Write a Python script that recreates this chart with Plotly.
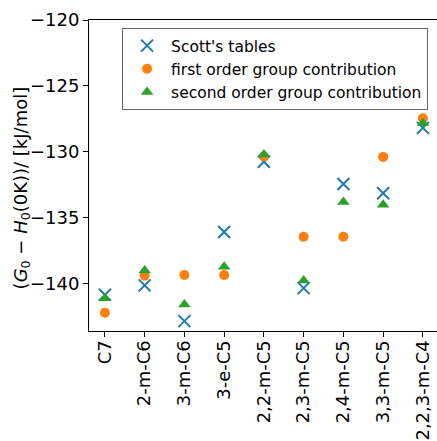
import plotly.graph_objects as go

categories = ["C7", "2-m-C6", "3-m-C6", "3-e-C5", "2,2-m-C5", "2,3-m-C5",
              "2,4-m-C5", "3,3-m-C5", "2,2,3-m-C4"]
scott = [-140.83, -140.12, -142.83, -136.08, -130.75, -140.33, -132.43, -133.13, -128.18]
first_order = [-142.2, -139.38, -139.33, -139.33, -130.33, -136.43, -136.43, -130.38, -127.45]
second_order = [-141.1, -139.0, -141.58, -138.7, -130.2, -139.75, -133.8, -134.0, -127.83]
y_ticks = [-140, -135, -130, -125, -120]
y_title = "(<i>G</i><sub>0</sub> − <i>H</i><sub>0</sub>(0K))/ [kJ/mol]"

xs = list(range(len(categories)))
fig = go.Figure()
fig.add_trace(go.Scatter(x=xs, y=scott, mode="markers", name="Scott's tables",
                         marker=dict(symbol="x-thin", size=12, color="#1f77b4",
                                     line=dict(width=2, color="#1f77b4"))))
fig.add_trace(go.Scatter(x=xs, y=first_order, mode="markers", name="first order group contribution",
                         marker=dict(symbol="circle", size=10, color="#ff7f0e")))
fig.add_trace(go.Scatter(x=xs, y=second_order, mode="markers", name="second order group contribution",
                         marker=dict(symbol="triangle-up", size=11, color="#2ca02c")))

fig.update_layout(
    width=437, height=441,
    margin=dict(l=89, r=0, t=20, b=107),
    plot_bgcolor="white", paper_bgcolor="white",
    font=dict(family="DejaVu Sans", color="black", size=16),
    showlegend=True,
    legend=dict(x=0.095, y=0.974, xanchor="left", yanchor="top",
                bordercolor="#666", borderwidth=1, bgcolor="rgba(255,255,255,0.8)",
                font=dict(size=15.5, family="DejaVu Sans"), tracegroupgap=0,
                itemwidth=38),
    xaxis=dict(range=[-0.4, 8.355], tickmode="array", tickvals=xs, ticktext=categories,
               tickangle=-90, showgrid=False, zeroline=False, showline=True, linecolor="black",
               linewidth=1, mirror=True, ticks="outside", ticklen=5, tickcolor="black",
               tickfont=dict(size=18), ticklabelstandoff=-4),
    yaxis=dict(range=[-143.58, -120], tickmode="array", tickvals=y_ticks,
               showgrid=False, zeroline=False, showline=True, linecolor="black", linewidth=1,
               mirror=False, ticks="outside", ticklen=5, tickcolor="black",
               tickfont=dict(size=18)),
    annotations=[dict(text=y_title, xref="paper", yref="paper",
                      x=(22 - 89) / 348, y=(334 - 190) / 314, xanchor="center", yanchor="middle",
                      textangle=-90, showarrow=False, font=dict(size=18))],
)
fig.write_html("out.html")
